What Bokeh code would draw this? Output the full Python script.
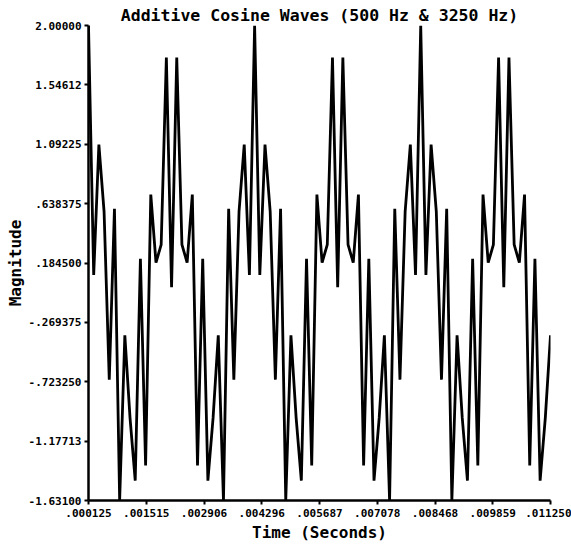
from bokeh.plotting import figure
from bokeh.models import FixedTicker, Range1d
from bokeh.embed import file_html
from bokeh.resources import INLINE

# ---- data ----
magnitude = [
    2.0, 0.09241, 1.08979, 0.57777, -0.70711, 0.5981, -1.63099, -0.36831,
    -1.0, -1.47945, 0.21677, -1.36347, 0.70711, 0.18759, 0.32443, 1.75535,
    0.0, 1.75535, 0.32443, 0.18759, 0.70711, -1.36347, 0.21677, -1.47945,
    -1.0, -0.36831, -1.63099, 0.5981, -0.70711, 0.57777, 1.08979, 0.09241,
    2.0, 0.09241, 1.08979, 0.57777, -0.70711, 0.5981, -1.63099, -0.36831,
    -1.0, -1.47945, 0.21677, -1.36347, 0.70711, 0.18759, 0.32443, 1.75535,
    0.0, 1.75535, 0.32443, 0.18759, 0.70711, -1.36347, 0.21677, -1.47945,
    -1.0, -0.36831, -1.63099, 0.5981, -0.70711, 0.57777, 1.08979, 0.09241,
    2.0, 0.09241, 1.08979, 0.57777, -0.70711, 0.5981, -1.63099, -0.36831,
    -1.0, -1.47945, 0.21677, -1.36347, 0.70711, 0.18759, 0.32443, 1.75535,
    0.0, 1.75535, 0.32443, 0.18759, 0.70711, -1.36347, 0.21677, -1.47945,
    -1.0, -0.36831,
]
sample_period = 0.000125
times = [sample_period * (k + 1) for k in range(len(magnitude))]

x_ticks = [0.000125, 0.001515625, 0.00290625, 0.004296875, 0.0056875,
           0.007078125, 0.00846875, 0.009859375, 0.01125]
x_tick_labels = [".000125", ".001515", ".002906", ".004296", ".005687",
                 ".007078", ".008468", ".009859", ".011250"]
y_ticks = [-1.631, -1.1771250, -0.72325, -0.269375, 0.1845, 0.638375,
           1.09225, 1.546125, 2.0]
y_tick_labels = ["-1.63100", "-1.17713", "-.723250", "-.269375", ".184500",
                 ".638375", "1.09225", "1.54612", "2.00000"]

FONT = "DejaVu Sans Mono"

p = figure(width=571, height=544, output_backend="svg", toolbar_location=None,
           title="Additive Cosine Waves (500 Hz & 3250 Hz)",
           x_range=Range1d(x_ticks[0], x_ticks[-1]),
           y_range=Range1d(y_ticks[0], y_ticks[-1]),
           min_border_left=88, min_border_right=21,
           min_border_top=25, min_border_bottom=0)

p.title.text_font = FONT
p.title.text_font_style = "bold"
p.title.text_font_size = "16.5px"
p.title.text_color = "black"
p.title.align = "center"
p.title.standoff = 2
p.title.offset = 0

p.line(times, magnitude, line_color="black", line_width=2.8)

p.outline_line_color = None
p.xgrid.visible = False
p.ygrid.visible = False

for ax in (p.xaxis[0], p.yaxis[0]):
    ax.axis_line_width = 2.5
    ax.axis_line_color = "black"
    ax.major_tick_line_width = 2
    ax.major_tick_line_color = "black"
    ax.major_tick_in = 0
    ax.major_tick_out = 4
    ax.minor_tick_line_color = None
    ax.major_label_text_font = FONT
    ax.major_label_text_font_style = "bold"
    ax.major_label_text_font_size = "11px"
    ax.major_label_text_color = "black"
    ax.major_label_standoff = 3
    ax.axis_label_text_font = FONT
    ax.axis_label_text_font_style = "bold"
    ax.axis_label_text_font_size = "16px"
    ax.axis_label_text_color = "black"

p.xaxis[0].ticker = FixedTicker(ticks=x_ticks)
p.xaxis[0].major_label_overrides = dict(zip(x_ticks, x_tick_labels))
p.yaxis[0].ticker = FixedTicker(ticks=y_ticks)
p.yaxis[0].major_label_overrides = dict(zip(y_ticks, y_tick_labels))
p.xaxis[0].axis_label = "Time (Seconds)"
p.yaxis[0].axis_label = "Magnitude"
p.xaxis[0].major_label_standoff = 4
p.xaxis[0].axis_label_standoff = 3
p.yaxis[0].axis_label_standoff = 1

open("out.html", "w").write(file_html(p, INLINE))
